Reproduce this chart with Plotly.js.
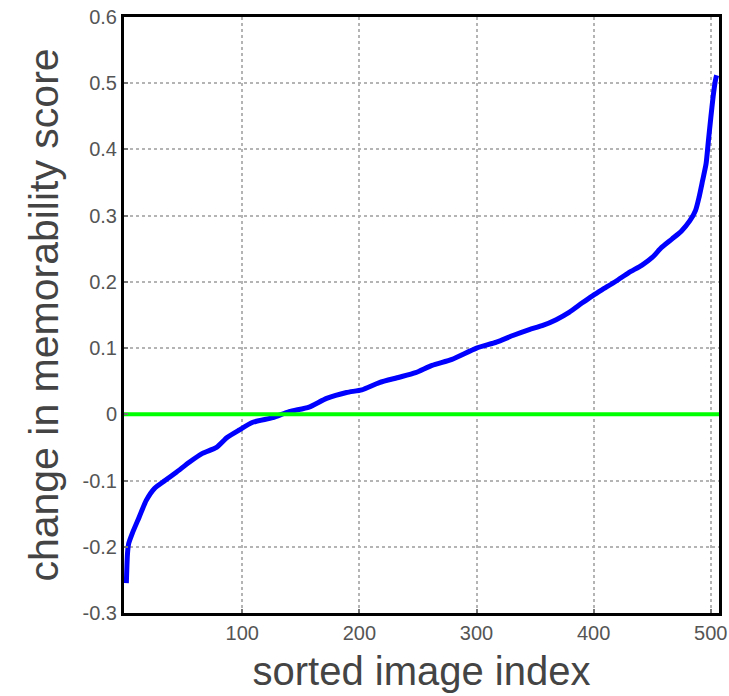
<!DOCTYPE html>
<html>
<head>
<meta charset="utf-8">
<script src="https://cdn.plot.ly/plotly-3.0.1.min.js"></script>
<style>html,body{margin:0;padding:0;background:#fff;}#chart{width:729px;height:696px;}</style>
</head>
<body>
<div id="chart"></div>
<script>
const imageIndex = [1, 2, 3, 6, 12, 18, 25, 34, 44, 55, 66, 78, 87, 97, 109, 126, 140, 157, 172, 189, 202, 217, 234, 248, 262, 279, 300, 317, 331, 345, 356, 368, 379, 390, 399, 407, 419, 430, 441, 450, 458, 467, 475, 482, 487, 490, 493, 496, 498, 500, 502, 504, 505];
// change in memorability score
const scoreChange = [-0.255, -0.21, -0.195, -0.18, -0.155, -0.13, -0.112, -0.10, -0.087, -0.072, -0.059, -0.05, -0.035, -0.024, -0.012, -0.005, 0.004, 0.011, 0.024, 0.033, 0.037, 0.048, 0.056, 0.063, 0.074, 0.083, 0.10, 0.109, 0.119, 0.128, 0.134, 0.143, 0.154, 0.168, 0.179, 0.188, 0.201, 0.214, 0.225, 0.237, 0.252, 0.265, 0.277, 0.292, 0.308, 0.328, 0.353, 0.379, 0.414, 0.448, 0.48, 0.505, 0.512];
// zero reference line
const zeroX = [-1, 507];
const zeroY = [0, 0];
// ticks
const xTickVals = [100, 200, 300, 400, 500];
const xTickText = ['100', '200', '300', '400', '500'];
const yTickVals = [-0.3, -0.2, -0.1, 0, 0.1, 0.2, 0.3, 0.4, 0.5, 0.6];
const yTickText = ['-0.3', '-0.2', '-0.1', '0', '0.1', '0.2', '0.3', '0.4', '0.5', '0.6'];

const traces = [
  {x: imageIndex, y: scoreChange, type: 'scatter', mode: 'lines',
   line: {color: '#0000ff', width: 5, shape: 'spline', smoothing: 0.6}, hoverinfo: 'skip'},
  {x: zeroX, y: zeroY, type: 'scatter', mode: 'lines',
   line: {color: '#00ff00', width: 4}, hoverinfo: 'skip'}
];

const axisCommon = {
  showline: true, linecolor: '#000', linewidth: 3, mirror: true,
  showgrid: true, gridcolor: '#b4b4b4', gridwidth: 2, griddash: 'dot',
  zeroline: false, ticks: 'inside', ticklen: 4, tickcolor: '#777', tickwidth: 2,
  ticklabeloverflow: 'allow',
  tickfont: {family: 'Liberation Sans, Arial, sans-serif', size: 20, color: '#555'}
};

const layout = {
  width: 729, height: 696,
  margin: {l: 124, r: 10, t: 17, b: 83},
  paper_bgcolor: '#fff', plot_bgcolor: '#fff',
  showlegend: false,
  xaxis: Object.assign({}, axisCommon, {
    range: [-1, 507], tickmode: 'array', tickvals: xTickVals, ticktext: xTickText,
    title: {text: 'sorted image index', standoff: 14,
            font: {family: 'Liberation Sans, Arial, sans-serif', size: 40, color: '#444'}}
  }),
  yaxis: Object.assign({}, axisCommon, {
    range: [-0.3, 0.6], tickmode: 'array', tickvals: yTickVals, ticktext: yTickText,
    title: {text: 'change in memorability score', standoff: 12,
            font: {family: 'Liberation Sans, Arial, sans-serif', size: 41, color: '#444'}}
  })
};

Plotly.newPlot('chart', traces, layout, {displayModeBar: false, staticPlot: true});
</script>
</body>
</html>
